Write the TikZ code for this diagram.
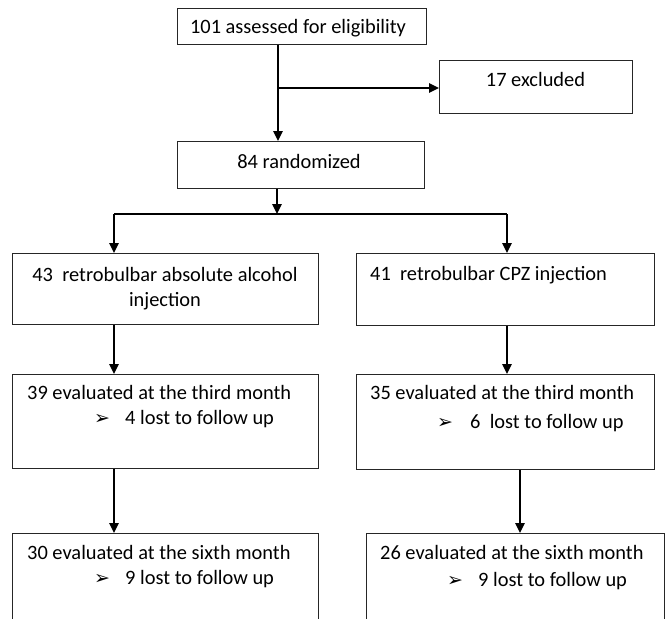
\documentclass[tikz,border=0pt]{standalone}
\usepackage{fontspec}
\setmainfont{Carlito}
\newfontfamily\symfont{DejaVu Sans}
\usetikzlibrary{arrows.meta}
\tikzset{
  box/.style={draw=black!85, line width=0.9pt, inner sep=0pt, anchor=north west},
  txt/.style={inner sep=0pt, font=\fontsize{20.4}{24}\selectfont, text=black},
  bul/.style={inner sep=0pt, font=\symfont\fontsize{19}{22}\selectfont, text=black},
  conn/.style={line width=1.4pt, black},
  arr/.style={conn, -{Triangle[length=10pt, width=9.5pt]}}
}
\begin{document}
\begin{tikzpicture}[x=1pt,y=-1pt]
\clip (0,0) rectangle (665,619);
% boxes
\node[box, minimum width=249pt, minimum height=36pt] (a) at (177,8) {};
\node[box, minimum width=193pt, minimum height=53pt] (ex) at (439,60) {};
\node[box, minimum width=247pt, minimum height=47pt] (r) at (177,141) {};
\node[box, minimum width=306pt, minimum height=71pt] (L1) at (12,253) {};
\node[box, minimum width=298pt, minimum height=72pt] (R1) at (356,253) {};
\node[box, minimum width=306pt, minimum height=94pt] (L2) at (12,374) {};
\node[box, minimum width=298pt, minimum height=95pt] (R2) at (356,374) {};
\node[box, minimum width=306pt, minimum height=110pt] (L3) at (12,533) {};
\node[box, minimum width=298pt, minimum height=110pt] (R3) at (366,533) {};
% texts
\node[txt, anchor=base] (ta) at (298,33) {101 assessed for eligibility};
\node[txt, anchor=base] (tex) at (535.5,86) {17 excluded};
\node[txt, anchor=base] (tr) at (299,168) {84 randomized};
\node[txt, anchor=base] (tl1a) at (165,281) {43\ \ retrobulbar absolute alcohol};
\node[txt, anchor=base] (tl1b) at (165,306) {injection};
\node[txt, anchor=base west] (tr1) at (370,280) {41\ \ retrobulbar CPZ injection};
\node[txt, anchor=base west] (tl2) at (27,399) {39 evaluated at the third month};
\node[bul, anchor=base west] (bl2) at (94,424) {➢};
\node[txt, anchor=base west] (tl2b) at (125,424) {4 lost to follow up};
\node[txt, anchor=base west] (tr2) at (370,399) {35 evaluated at the third month};
\node[bul, anchor=base west] (br2) at (437,428) {➢};
\node[txt, anchor=base west] (tr2b) at (470,428) {6\ \ lost to follow up};
\node[txt, anchor=base west] (tl3) at (27,559) {30 evaluated at the sixth month};
\node[bul, anchor=base west] (bl3) at (94,584) {➢};
\node[txt, anchor=base west] (tl3b) at (125,584) {9 lost to follow up};
\node[txt, anchor=base west] (tr3) at (380,559) {26 evaluated at the sixth month};
\node[bul, anchor=base west] (br3) at (447,586) {➢};
\node[txt, anchor=base west] (tr3b) at (478,586) {9 lost to follow up};
% connectors
\coordinate (t) at (278,88);
\coordinate (s) at (277,214);
\coordinate (sL) at (114,214);
\coordinate (sR) at (507,214);
\coordinate (cR) at (520,0);
\draw[conn] (a.south -| t) -- (t);
\draw[arr] (t) -- (t |- r.north);
\draw[arr] (t) -- (t -| ex.west);
\draw[arr] (r.south -| s) -- (s);
\draw[conn] (sL) -- (sR);
\draw[arr] (sL) -- (sL |- L1.north);
\draw[arr] (sR) -- (sR |- R1.north);
\draw[arr] (L1.south -| sL) -- (L2.north -| sL);
\draw[arr] (R1.south -| sR) -- (R2.north -| sR);
\draw[arr] (L2.south -| sL) -- (L3.north -| sL);
\draw[arr] (R2.south -| cR) -- (R3.north -| cR);
\end{tikzpicture}
\end{document}
